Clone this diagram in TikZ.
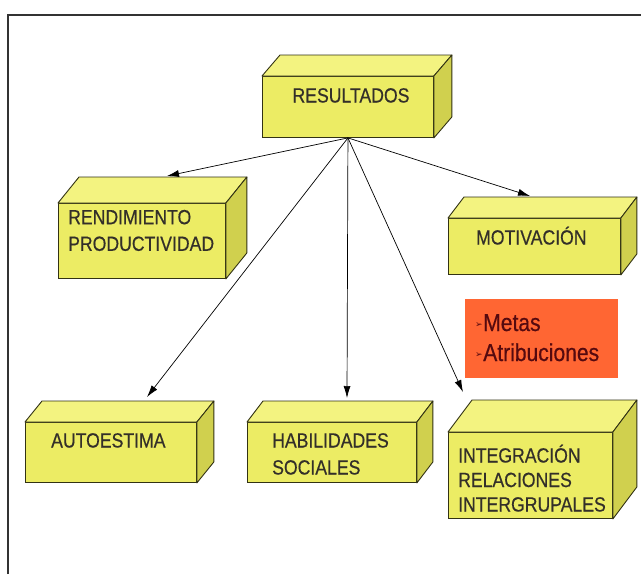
\documentclass[tikz,border=0pt]{standalone}
\usepackage{fontspec}
\setmainfont[FakeStretch=0.86,FakeBold=0.5]{Liberation Sans}
\newfontfamily\symfont{DejaVu Sans}
\usetikzlibrary{arrows.meta}
\definecolor{frontc}{RGB}{236,236,100}
\definecolor{topc}{RGB}{243,243,128}
\definecolor{sidec}{RGB}{208,208,78}
\definecolor{edgec}{RGB}{50,50,20}
\definecolor{orangec}{RGB}{255,102,51}
\definecolor{maroonc}{RGB}{85,10,15}
\newcommand\cubefaces[3]{%
  \path[topface] (#1.north west) -- ++(#2,-#3) -- ([shift={(#2,-#3)}]#1.north east) -- (#1.north east) -- cycle;
  \path[sideface] (#1.north east) -- ++(#2,-#3) -- ([shift={(#2,-#3)}]#1.south east) -- (#1.south east) -- cycle;}
\newcommand\bulmark{{\symfont\fontsize{9}{9}\selectfont\raisebox{4pt}{➢}}\hspace{0.5pt}}
\begin{document}
\begin{tikzpicture}[x=1pt,y=-1pt,
  front/.style={draw=edgec, fill=frontc, line width=0.9pt, inner sep=0pt, anchor=north west},
  topface/.style={draw=edgec, fill=topc, line width=0.9pt, line join=round},
  sideface/.style={draw=edgec, fill=sidec, line width=0.9pt, line join=round},
  lbl/.style={inner sep=0pt, align=left, anchor=north west, text=black!85!olive, font=\fontsize{20.5}{26.6}\selectfont},
  arr/.style={-{Latex[length=12pt,width=7pt]}, line width=0.7pt, black}
]
\useasboundingbox (0,0) rectangle (641,574);
\fill[white] (0,0) rectangle (641,574);
\draw[line width=1.2pt, black!80] (8,574) -- (8,15) -- (641,15);

% boxes
\node[front, minimum width=171pt, minimum height=61pt] (res) at (262,76) {};
\cubefaces{res}{18}{21}
\node[front, minimum width=167pt, minimum height=75pt] (rend) at (58,203) {};
\cubefaces{rend}{21}{26}
\node[front, minimum width=172pt, minimum height=56pt] (mot) at (448,218) {};
\cubefaces{mot}{16}{21}
\node[front, minimum width=171pt, minimum height=60pt] (aut) at (25,422) {};
\cubefaces{aut}{17}{21}
\node[front, minimum width=169pt, minimum height=60pt] (hab) at (247,422) {};
\cubefaces{hab}{16}{21}
\node[front, minimum width=164pt, minimum height=86pt] (int) at (448,432) {};
\cubefaces{int}{24}{32}

% orange box
\node[fill=orangec, inner sep=0pt, minimum width=153pt, minimum height=79pt, anchor=north west] (ora) at (465,299) {};

% labels
\node[lbl, anchor=north] (resT) at (351,80.3) {\rule{0pt}{22pt}RESULTADOS};
\node[lbl] (rendT) at (68,202) {\rule{0pt}{22pt}RENDIMIENTO\\PRODUCTIVIDAD};
\node[lbl] (motT) at (476,222.3) {\rule{0pt}{22pt}MOTIVACIÓN};
\node[lbl] (autT) at (51,425.3) {\rule{0pt}{22pt}AUTOESTIMA};
\node[lbl, font=\fontsize{20.5}{27}\selectfont] (habT) at (272,425.3) {\rule{0pt}{22pt}HABILIDADES\\SOCIALES};
\node[lbl, font=\fontsize{20.5}{24.5}\selectfont] (intT) at (458,440.3) {\rule{0pt}{22pt}INTEGRACIÓN\\RELACIONES\\INTERGRUPALES};
\node[lbl, text=maroonc, font=\fontsize{24.5}{30}\selectfont] (oraT) at (475,308.8)
  {\rule{0pt}{22pt}\bulmark Metas\\ \bulmark Atribuciones};

% arrow ends
\coordinate (rendE) at (167,176);
\coordinate (motE) at (530,196);
\coordinate (autE) at (147,397);
\coordinate (habE) at (347,398);
\coordinate (intE) at (463,392);

\draw[arr] (res.south) -- (rendE);
\draw[arr] (res.south) -- (motE);
\draw[arr] (res.south) -- (autE);
\draw[arr] (res.south) -- (habE);
\draw[arr] (res.south) -- (intE);
\end{tikzpicture}
\end{document}
